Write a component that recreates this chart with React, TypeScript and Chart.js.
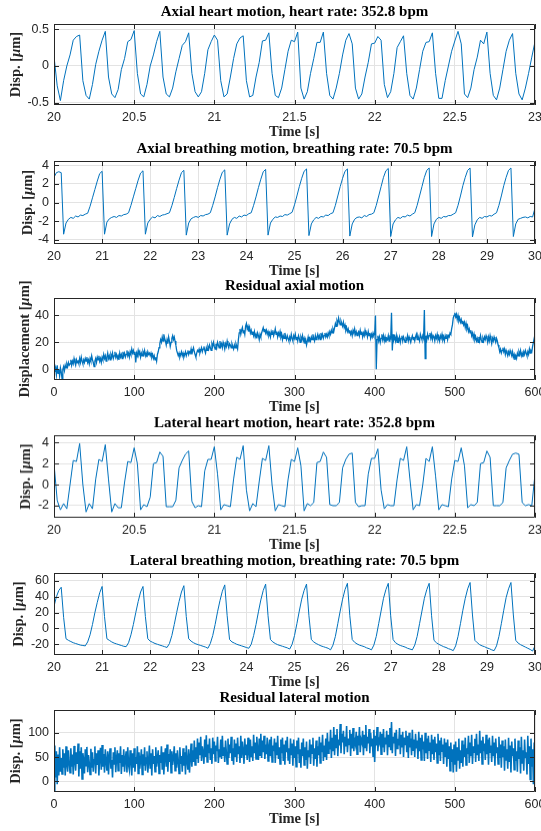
import React, { useEffect, useRef } from "react";
import { Chart, registerables } from "chart.js";

Chart.register(...registerables);

// ---------------- data ----------------
const axialHeartStart = 20;
const axialHeartStep = 0.02;
const axialHeart = [
  0.13, -0.27, -0.47, -0.2, 0.0, 0.15, 0.35, 0.4, 0.42, -0.2,
  -0.4, -0.45, -0.25, 0.02, 0.2, 0.35, 0.47, -0.15, -0.38, -0.43,
  -0.32, -0.05, 0.1, 0.33, 0.36, 0.48, -0.1, -0.38, -0.42, -0.25,
  0.0, 0.15, 0.33, 0.47, -0.15, -0.38, -0.42, -0.3, -0.08, 0.1,
  0.28, 0.33, 0.45, -0.1, -0.35, -0.42, -0.35, -0.1, 0.22, 0.33,
  0.42, 0.35, -0.2, -0.42, -0.38, -0.15, 0.1, 0.3, 0.38, 0.41,
  -0.2, -0.42, -0.4, -0.15, 0.05, 0.34, 0.35, 0.45, -0.1, -0.4,
  -0.43, -0.3, -0.05, 0.2, 0.35, 0.33, 0.46, -0.3, -0.45, -0.35,
  -0.1, 0.1, 0.32, 0.32, 0.46, -0.1, -0.4, -0.45, -0.3, -0.1,
  0.15, 0.35, 0.44, 0.3, -0.3, -0.45, -0.38, -0.15, 0.05, 0.3,
  0.31, 0.4, 0.35, -0.25, -0.43, -0.35, -0.1, 0.25, 0.33, 0.41,
  -0.1, -0.4, -0.45, -0.3, -0.05, 0.2, 0.32, 0.33, 0.45, -0.1,
  -0.44, -0.44, -0.2, 0.0, 0.2, 0.34, 0.47, 0.3, -0.38, -0.43,
  -0.3, -0.05, 0.12, 0.35, 0.3, 0.46, -0.1, -0.4, -0.46, -0.3,
  -0.05, 0.2, 0.35, 0.44, -0.1, -0.38, -0.46, -0.3, -0.1, 0.12,
  0.33,
];

const axialBreathStart = 20;
const axialBreathStep = 0.05;
const axialBreath = [
  2.7, 3.2, 3.3, 3.2,
  -3.4, -2.2, -1.8, -1.6, -1.7, -1.45, -1.55, -1.35, -1.4, -1.25, -1.15, -0.4, 0.5, 1.4, 2.3, 3.1, 3.35,
  -3.4, -2.1, -1.75, -1.6, -1.5, -1.6, -1.4, -1.45, -1.3, -1.25, -1.1, -0.3, 0.6, 1.5, 2.4, 3.15, 3.4,
  -3.4, -2.2, -1.8, -1.55, -1.65, -1.4, -1.5, -1.35, -1.3, -1.2, -1.1, -0.35, 0.55, 1.5, 2.4, 3.2, 3.45,
  -3.5, -2.2, -1.75, -1.6, -1.5, -1.6, -1.4, -1.45, -1.3, -1.25, -1.1, -0.3, 0.6, 1.6, 2.5, 3.25, 3.5,
  -3.5, -2.3, -1.8, -1.6, -1.7, -1.45, -1.55, -1.35, -1.4, -1.2, -1.1, -0.3, 0.6, 1.6, 2.5, 3.3, 3.55,
  -3.5, -2.2, -1.8, -1.55, -1.6, -1.45, -1.5, -1.3, -1.35, -1.2, -1.05, -0.25, 0.7, 1.7, 2.6, 3.35, 3.6,
  -3.55, -2.3, -1.85, -1.6, -1.7, -1.5, -1.55, -1.35, -1.4, -1.2, -1.1, -0.3, 0.7, 1.7, 2.6, 3.35, 3.6,
  -3.6, -2.3, -1.8, -1.6, -1.55, -1.65, -1.4, -1.5, -1.3, -1.25, -1.1, -0.3, 0.7, 1.7, 2.7, 3.4, 3.65,
  -3.65, -2.3, -1.85, -1.6, -1.7, -1.5, -1.55, -1.35, -1.45, -1.25, -1.1, -0.3, 0.7, 1.7, 2.7, 3.45, 3.7,
  -3.65, -2.3, -1.8, -1.6, -1.7, -1.5, -1.55, -1.4, -1.4, -1.25, -1.1, -0.3, 0.7, 1.8, 2.7, 3.45, 3.7,
  -3.7, -2.4, -1.85, -1.6, -1.7, -1.5, -1.55, -1.4, -1.45, -1.25, -1.1, -0.3, 0.7, 1.8, 2.7, 3.45, 3.7,
  -3.65, -2.3, -1.8, -1.7, -1.6, -1.55, -1.65, -1.5, -1.55, -0.6,
];

const residualAxialStart = 0;
const residualAxialStep = 1;
const residualAxial = [
  2, -2, 1, -4, 3, -3, 0, -5, 1, -2,
  -7, 0, 2, -1, 3, 1, 4, 2, 5, 3,
  4, 7, 3, 6, 4, 8, 5, 3, 7, 5,
  6, 4, 8, 5, 9, 6, 4, 7, 5, 8,
  6, 9, 5, 7, 4, 8, 6, 10, 7, 5,
  2, 6, 8, 5, 9, 7, 10, 6, 8, 5,
  9, 7, 11, 8, 10, 6, 9, 12, 8, 10,
  7, 11, 9, 12, 8, 10, 13, 9, 11, 8,
  10, 7, 12, 9, 11, 8, 13, 10, 12, 9,
  11, 14, 10, 12, 9, 13, 11, 15, 12, 14,
  11, 13, 5, 12, 10, 14, 11, 13, 9, 12,
  10, 13, 11, 14, 10, 12, 9, 13, 11, 12,
  10, 12, 9, 11, 8, 10, 7, 9, 6, 11,
  13, 16, 19, 22, 20, 24, 21, 26, 23, 21,
  18, 22, 19, 24, 21, 17, 20, 23, 25, 22,
  24, 21, 18, 14, 12, 10, 12, 9, 11, 13,
  10, 12, 9, 11, 13, 10, 12, 14, 11, 13,
  12, 15, 11, 14, 16, 13, 11, 9, 12, 14,
  13, 15, 12, 14, 16, 13, 15, 17, 14, 12,
  16, 14, 17, 15, 18, 16, 14, 19, 17, 20,
  17, 15, 19, 16, 20, 18, 16, 21, 17, 19,
  16, 20, 18, 15, 19, 17, 21, 18, 16, 19,
  18, 16, 19, 17, 15, 18, 16, 19, 17, 15,
  22, 27, 30, 26, 29, 31, 27, 29, 26, 32,
  34, 30, 32, 28, 31, 27, 29, 26, 28, 25,
  28, 24, 26, 23, 27, 25, 22, 26, 24, 27,
  29, 31, 28, 30, 27, 29, 26, 28, 25, 27,
  24, 28, 26, 29, 25, 27, 30, 26, 28, 24,
  27, 25, 28, 24, 26, 22, 25, 23, 27, 24,
  22, 25, 23, 21, 24, 22, 26, 23, 21, 25,
  23, 26, 22, 24, 21, 25, 23, 20, 24, 22,
  25, 21, 23, 19, 22, 18, 21, 24, 20, 23,
  21, 24, 22, 26, 23, 21, 25, 22, 24, 26,
  23, 25, 22, 27, 24, 26, 23, 25, 27, 24,
  26, 24, 27, 25, 28, 26, 29, 27, 30, 28,
  31, 34, 32, 36, 34, 38, 35, 33, 36, 34,
  32, 35, 31, 33, 29, 31, 28, 30, 27, 29,
  26, 28, 25, 29, 27, 30, 26, 28, 25, 27,
  28, 25, 29, 26, 28, 24, 27, 25, 29, 26,
  27, 24, 28, 25, 27, 23, 26, 24, 27, 25,
  26, 40, 0, 22, 25, 21, 24, 20, 23, 26,
  22, 25, 21, 24, 20, 23, 22, 25, 21, 24,
  23, 42, 14, 26, 22, 24, 21, 25, 20, 23,
  21, 24, 20, 23, 25, 21, 24, 22, 20, 23,
  22, 25, 21, 24, 22, 20, 23, 25, 22, 24,
  21, 24, 26, 22, 25, 23, 21, 26, 24, 22,
  25, 23, 44, 8, 25, 22, 26, 23, 25, 27,
  23, 26, 22, 25, 24, 21, 25, 23, 26, 22,
  24, 21, 25, 23, 26, 22, 24, 21, 25, 23,
  26, 22, 25, 24, 27, 26, 30, 33, 38, 40,
  42, 39, 41, 37, 40, 36, 38, 35, 37, 34,
  36, 33, 35, 31, 34, 30, 32, 28, 30, 27,
  29, 25, 27, 23, 26, 22, 24, 21, 23, 20,
  24, 21, 25, 22, 20, 23, 21, 24, 22, 25,
  23, 20, 24, 21, 25, 22, 19, 23, 21, 24,
  22, 20, 23, 21, 18, 16, 13, 15, 12, 14,
  16, 13, 15, 11, 14, 12, 10, 13, 11, 14,
  12, 10, 13, 9, 11, 7, 10, 8, 12, 10,
  13, 11, 14, 10, 12, 9, 13, 11, 14, 12,
  10, 13, 11, 15, 12, 14, 13, 17, 20, 23,
  26,
];

const lateralHeartStart = 20;
const lateralHeartStep = 0.02;
const lateralHeart = [
  2.0, -1.5, -2.4, -1.8, -2.3, 0.0, 2.3, 2.2,
  3.9, 0.0, -2.6, -1.8, -2.3, 0.5, 2.4, 2.2,
  3.8, 0.5, -2.6, -1.8, -2.2, -2.2, 0.2, 2.2, 2.1,
  3.5, 2.0, -2.4, -1.9, -2.1, -1.2, 2.0, 2.1,
  3.1, 2.7, -2.1, -2.1, -2.1, -1.5, 1.6, 2.3, 2.9,
  3.2, -1.6, -2.2, -2.0, -2.1, 1.3, 2.4, 2.4,
  3.6, 1.0, -2.4, -1.9, -2.0, -2.1, 0.5, 2.6, 2.4,
  3.7, -0.5, -2.5, -1.8, -2.1, 0.3, 2.5, 2.3,
  3.7, 0.0, -2.5, -1.9, -2.0, -2.1, 0.5, 2.4, 2.2,
  3.5, 1.8, -2.5, -1.8, -2.0, -1.7, 2.1, 2.2,
  3.1, 2.6, -1.9, -2.0, -2.0, -1.7, 1.6, 2.4, 2.9,
  3.0, -1.7, -2.1, -2.0, -2.0, 1.0, 2.5, 2.5,
  3.4, -0.5, -2.3, -1.9, -2.0, -2.0, 0.5, 2.5, 2.3,
  3.6, 0.5, -2.4, -1.9, -2.0, 0.0, 2.5, 2.2,
  3.6, 0.8, -2.4, -1.9, -2.0, -2.1, 0.5, 2.3, 2.2,
  3.5, 1.8, -2.2, -1.9, -2.0, -1.7, 2.0, 2.1,
  3.2, 2.6, -2.0, -2.0, -2.0, -1.7, 1.6, 2.3, 2.9,
  3.0, 2.9, -1.7, -2.0, -1.9, -2.0, 1.0,
];

const lateralBreathStart = 20;
const lateralBreathStep = 0.05;
const lateralBreath = [
  28, 40, 48, 52,
  14, -13, -15, -16.5, -18, -19, -20, -21, -21.5, -22, -17, -8, 5, 20, 33, 45,
  53, 15, -13, -15, -17, -18.5, -19.5, -20.5, -21.5, -22.5, -23, -18, -8, 5, 20, 34, 46,
  53, 15, -13, -16, -17.5, -19, -20, -21, -22, -23, -24, -19, -9, 5, 20, 34, 46,
  54, 15, -13, -16, -18, -19.5, -20.5, -21.5, -22.5, -23.5, -25, -19, -9, 5, 21, 35, 47,
  55, 16, -14, -17, -18.5, -20, -21, -22, -23, -24, -25, -20, -9, 5, 21, 36, 48,
  56, 16, -14, -17, -19, -20.5, -21.5, -22.5, -23.5, -24.5, -26, -20, -9, 6, 22, 37, 48,
  56, 16, -14, -17, -19, -20.5, -22, -23, -24, -25, -27, -21, -10, 6, 22, 37, 49,
  57, 16, -14, -17.5, -19.5, -21, -22, -23, -24.5, -25.5, -27, -21, -10, 6, 22, 38, 49,
  57, 16, -14, -18, -20, -21.5, -22.5, -23.5, -25, -26, -27, -21, -10, 6, 22, 38, 49,
  57, 16, -15, -18, -20, -21.5, -23, -24, -25.5, -26.5, -28, -22, -10, 6, 23, 38, 50,
  58, 17, -15, -18, -20.5, -22, -23, -24.5, -25.5, -27, -28, -22, -10, 6, 23, 39, 50,
  58, 17, -15, -18.5, -20.5, -22, -23.5, -25, -26.5, -28.5, -22,
];

const residualLateralStart = 0;
const residualLateralStep = 1;
const residualLateral = [
  -20, 74, 8, 62, -6, 55, 12, 70, 20, 48,
  15, 66, 28, 58, 12, 72, 35, 20, 64, 40,
  18, 68, 30, 55, 14, 73, 42, 22, 60, 36,
  78, 10, 62, 26, 70, 5, 58, 44, 16, 66,
  32, 71, 19, 54, 38, 14, 67, 28, 60, 20,
  45, 72, 16, 58, 34, 64, 12, 50, 69, 24,
  75, 30, 56, 18, 66, 40, 22, 62, 14, 52,
  68, 26, 44, 8, 60, 36, 70, 19, 48, 64,
  22, 58, 38, 72, 15, 54, 30, 66, 20, 46,
  62, 18, 70, 34, 24, 64, 42, 12, 58, 28,
  68, 20, 50, 36, 72, 16, 60, 26, 44, 66,
  14, 56, 32, 70, 22, 48, 62, 18, 40, 74,
  26, 58, 12, 66, 36, 52, 20, 70, 30, 46,
  64, 16, 54, 38, 72, 24, 60, 14, 50, 68,
  30, 76, 20, 56, 40, 66, 18, 62, 34, 48,
  72, 22, 58, 28, 64, 44, 16, 70, 36, 52,
  20, 68, 32, 60, 14, 74, 42, 24, 66, 18,
  48, 78, 30, 64, 40, 84, 34, 70, 46, 88,
  38, 80, 54, 92, 42, 72, 60, 36, 86, 50,
  95, 40, 76, 58, 88, 44, 68, 36, 90, 56,
  82, 42, 74, 62, 92, 38, 66, 50, 86, 46,
  94, 54, 70, 40, 84, 60, 36, 88, 48, 76,
  58, 92, 42, 68, 34, 86, 52, 78, 40, 90,
  56, 72, 38, 94, 48, 82, 62, 36, 88, 54,
  76, 44, 90, 60, 40, 86, 50, 72, 42, 96,
  58, 80, 46, 92, 64, 44, 88, 54, 98, 48,
  84, 60, 94, 46, 76, 56, 90, 42, 70, 86,
  52, 92, 40, 74, 62, 88, 38, 80, 54, 94,
  46, 70, 36, 86, 58, 90, 42, 76, 34, 84,
  60, 92, 44, 68, 36, 88, 54, 78, 32, 86,
  48, 72, 30, 84, 56, 90, 38, 66, 28, 80,
  52, 88, 34, 70, 44, 82, 26, 64, 50, 86,
  36, 76, 58, 90, 32, 68, 46, 84, 30, 72,
  54, 92, 38, 80, 60, 96, 42, 74, 50, 88,
  44, 100, 58, 82, 66, 106, 48, 90, 62, 112,
  54, 96, 70, 108, 52, 86, 74, 118, 58, 98,
  80, 104, 56, 92, 72, 114, 60, 88, 76, 106,
  52, 98, 68, 110, 62, 90, 78, 102, 56, 94,
  74, 112, 60, 86, 80, 104, 54, 96, 70, 116,
  62, 92, 78, 108, 58, 100, 72, 88, 52, 106,
  40, 94, 74, 112, 62, 86, 80, 102, 56, 98,
  70, 108, 60, 90, 76, 104, 54, 96, 72, 110,
  64, 122, 58, 92, 78, 100, 52, 106, 68, 88,
  74, 110, 56, 96, 70, 102, 50, 90, 76, 104,
  60, 94, 48, 100, 70, 88, 54, 106, 64, 86,
  50, 98, 68, 84, 46, 102, 62, 90, 44, 96,
  66, 82, 42, 100, 58, 88, 46, 94, 64, 80,
  40, 96, 56, 86, 44, 92, 60, 78, 38, 98,
  54, 84, 42, 90, 62, 76, 36, 88, 50, 80,
  30, 86, 46, 72, 22, 80, 40, 66, 18, 76,
  34, 82, 20, 70, 44, 88, 26, 64, 38, 84,
  30, 76, 50, 90, 34, 68, 56, 94, 38, 80,
  52, 96, 36, 72, 60, 88, 40, 98, 54, 76,
  42, 104, 58, 84, 36, 92, 62, 78, 44, 96,
  56, 86, 34, 90, 60, 74, 40, 94, 52, 80,
  32, 88, 58, 70, 36, 92, 48, 76, 28, 84,
  50, 72, 22, 86, 44, 66, 26, 90, 40, 74,
  18, 82, 52, 68, 24, 88, 42, 62, 20, 84,
  46, 70, 16, 92, 38, 64, 22, 86, 48, 60,
  14, 94, 36, 72, 4, 88, 30, 66, -6, 80,
  -15,
];

// tick values and labels
const heartXTicks = [20, 20.5, 21, 21.5, 22, 22.5, 23];
const heartXLabels = ["20", "20.5", "21", "21.5", "22", "22.5", "23"];
const breathXTicks = [20, 21, 22, 23, 24, 25, 26, 27, 28, 29, 30];
const breathXLabels = ["20", "21", "22", "23", "24", "25", "26", "27", "28", "29", "30"];
const residualXTicks = [0, 100, 200, 300, 400, 500, 600];
const residualXLabels = ["0", "100", "200", "300", "400", "500", "600"];

const axialHeartYTicks = [-0.5, 0, 0.5];
const axialHeartYLabels = ["-0.5", "0", "0.5"];
const axialBreathYTicks = [-4, -2, 0, 2, 4];
const axialBreathYLabels = ["-4", "-2", "0", "2", "4"];
const residualAxialYTicks = [0, 20, 40];
const residualAxialYLabels = ["0", "20", "40"];
const lateralHeartYTicks = [-2, 0, 2, 4];
const lateralHeartYLabels = ["-2", "0", "2", "4"];
const lateralBreathYTicks = [-20, 0, 20, 40, 60];
const lateralBreathYLabels = ["-20", "0", "20", "40", "60"];
const residualLateralYTicks = [0, 50, 100];
const residualLateralYLabels = ["0", "50", "100"];

const titles = [
  "Axial heart motion, heart rate: 352.8 bpm",
  "Axial breathing motion, breathing rate: 70.5 bpm",
  "Residual axial motion",
  "Lateral heart motion, heart rate: 352.8 bpm",
  "Lateral breathing motion, breathing rate: 70.5 bpm",
  "Residual lateral motion",
];

// ---------------- layout / style ----------------
const W = 541;
const H = 831;
const PLOT_LEFT = 54;
const PLOT_RIGHT = 535;
const PAD_T = 30;
const PAD_B = 42;
const LINE = "#0072BD";
const AXIS = "#262626";
const GRID = "#e3e3e3";
const SERIF = '"Liberation Serif", "Times New Roman", serif';
const SANS = '"Liberation Sans", Arial, Helvetica, sans-serif';

type PanelCfg = {
  start: number;
  step: number;
  ys: number[];
  xmin: number;
  xmax: number;
  ymin: number;
  ymax: number;
  xTicks: number[];
  xLabels: string[];
  yTicks: number[];
  yLabels: string[];
  title: string;
  ylabel: string;
  ylabelX: number;
  top: number;
  h: number;
  lw: number;
};

const panels: PanelCfg[] = [
  { start: axialHeartStart, step: axialHeartStep, ys: axialHeart, xmin: 20, xmax: 23, ymin: -0.53, ymax: 0.57,
    xTicks: heartXTicks, xLabels: heartXLabels, yTicks: axialHeartYTicks, yLabels: axialHeartYLabels,
    title: titles[0], ylabel: "Disp.", ylabelX: 16.5, top: 24, h: 81, lw: 1 },
  { start: axialBreathStart, step: axialBreathStep, ys: axialBreath, xmin: 20, xmax: 30, ymin: -4.45, ymax: 4.45,
    xTicks: breathXTicks, xLabels: breathXLabels, yTicks: axialBreathYTicks, yLabels: axialBreathYLabels,
    title: titles[1], ylabel: "Disp.", ylabelX: 28, top: 161, h: 83, lw: 1 },
  { start: residualAxialStart, step: residualAxialStep, ys: residualAxial, xmin: 0, xmax: 600, ymin: -8, ymax: 53,
    xTicks: residualXTicks, xLabels: residualXLabels, yTicks: residualAxialYTicks, yLabels: residualAxialYLabels,
    title: titles[2], ylabel: "Displacement", ylabelX: 25, top: 298, h: 82, lw: 1.3 },
  { start: lateralHeartStart, step: lateralHeartStep, ys: lateralHeart, xmin: 20, xmax: 23, ymin: -3.15, ymax: 4.7,
    xTicks: heartXTicks, xLabels: heartXLabels, yTicks: lateralHeartYTicks, yLabels: lateralHeartYLabels,
    title: titles[3], ylabel: "Disp.", ylabelX: 26.5, top: 435, h: 82.5, lw: 1 },
  { start: lateralBreathStart, step: lateralBreathStep, ys: lateralBreath, xmin: 20, xmax: 30, ymin: -33.5, ymax: 70,
    xTicks: breathXTicks, xLabels: breathXLabels, yTicks: lateralBreathYTicks, yLabels: lateralBreathYLabels,
    title: titles[4], ylabel: "Disp.", ylabelX: 19, top: 572.5, h: 82.5, lw: 1 },
  { start: residualLateralStart, step: residualLateralStep, ys: residualLateral, xmin: 0, xmax: 600, ymin: -22, ymax: 147,
    xTicks: residualXTicks, xLabels: residualXLabels, yTicks: residualLateralYTicks, yLabels: residualLateralYLabels,
    title: titles[5], ylabel: "Disp.", ylabelX: 16, top: 710, h: 82, lw: 1.6 },
];

const TITLE_FONT = `bold 15px ${SERIF}`;
const LABEL_FONT = `bold 14.5px ${SERIF}`;
const LABEL_ITALIC = `italic bold 14.5px ${SERIF}`;

function drawRich(ctx: CanvasRenderingContext2D, parts: { t: string; f: string }[], cx: number, cy: number, rot: number) {
  ctx.save();
  ctx.translate(cx, cy);
  ctx.rotate(rot);
  let total = 0;
  const widths = parts.map((p) => {
    ctx.font = p.f;
    const w = ctx.measureText(p.t).width;
    total += w;
    return w;
  });
  let x = -total / 2;
  ctx.textAlign = "left";
  ctx.textBaseline = "middle";
  parts.forEach((p, i) => {
    ctx.font = p.f;
    ctx.fillText(p.t, x, 0);
    x += widths[i];
  });
  ctx.restore();
}

const matlabAxes = {
  id: "matlabAxes",
  afterDraw(chart: any, _args: any, opts: any) {
    const { ctx, chartArea: a, scales } = chart;
    const xs = scales.x;
    const ys = scales.y;
    ctx.save();
    ctx.strokeStyle = AXIS;
    ctx.lineWidth = 1;
    ctx.beginPath();
    ctx.rect(Math.round(a.left) + 0.5, Math.round(a.top) + 0.5, Math.round(a.right) - Math.round(a.left) - 1, Math.round(a.bottom) - Math.round(a.top) - 1);
    ctx.stroke();
    const TL = 5;
    ctx.beginPath();
    (opts.xTicks as number[]).forEach((v) => {
      const px = Math.round(xs.getPixelForValue(v)) + 0.5;
      ctx.moveTo(px, a.bottom);
      ctx.lineTo(px, a.bottom - TL);
      ctx.moveTo(px, a.top);
      ctx.lineTo(px, a.top + TL);
    });
    (opts.yTicks as number[]).forEach((v) => {
      const py = Math.round(ys.getPixelForValue(v)) + 0.5;
      ctx.moveTo(a.left, py);
      ctx.lineTo(a.left + TL, py);
      ctx.moveTo(a.right, py);
      ctx.lineTo(a.right - TL, py);
    });
    ctx.stroke();
    const cx = (a.left + a.right) / 2;
    ctx.fillStyle = "#000";
    ctx.font = TITLE_FONT;
    ctx.textAlign = "center";
    ctx.textBaseline = "middle";
    ctx.fillText(opts.title, cx, a.top - 11.5);
    ctx.fillStyle = AXIS;
    drawRich(ctx, [{ t: "Time [s]", f: LABEL_FONT }], cx, a.bottom + 27, 0);
    drawRich(
      ctx,
      [
        { t: opts.ylabel + " [", f: LABEL_FONT },
        { t: "\u03bc", f: LABEL_ITALIC },
        { t: "m]", f: LABEL_FONT },
      ],
      opts.ylabelX,
      (a.top + a.bottom) / 2,
      -Math.PI / 2
    );
    ctx.restore();
  },
};

function Panel({ cfg }: { cfg: PanelCfg }) {
  const ref = useRef<HTMLCanvasElement | null>(null);
  const ch = PAD_T + cfg.h + PAD_B;
  useEffect(() => {
    const canvas = ref.current;
    if (!canvas) return;
    const points = cfg.ys.map((v, i) => ({ x: cfg.start + i * cfg.step, y: v }));
    const chart = new Chart(canvas, {
      type: "line",
      data: {
        datasets: [
          {
            data: points,
            borderColor: LINE,
            borderWidth: cfg.lw,
            pointRadius: 0,
            tension: 0,
            fill: false,
          },
        ],
      },
      options: {
        responsive: false,
        animation: false,
        devicePixelRatio: 1,
        events: [],
        layout: { padding: { top: PAD_T, right: W - PLOT_RIGHT, bottom: 0, left: 0 } },
        plugins: {
          legend: { display: false },
          tooltip: { enabled: false },
          title: { display: false },
          matlabAxes: {
            title: cfg.title,
            ylabel: cfg.ylabel,
            ylabelX: cfg.ylabelX,
            xTicks: cfg.xTicks,
            yTicks: cfg.yTicks,
          },
        } as any,
        scales: {
          x: {
            type: "linear",
            min: cfg.xmin,
            max: cfg.xmax,
            border: { display: false },
            grid: { color: GRID, lineWidth: 1, drawTicks: false },
            ticks: {
              autoSkip: false,
              maxRotation: 0,
              padding: 5,
              color: AXIS,
              font: { family: SANS, size: 12.5 },
              callback: (v: any) => {
                const i = cfg.xTicks.indexOf(Number(v));
                return i >= 0 ? cfg.xLabels[i] : "";
              },
            },
            afterBuildTicks: (s: any) => {
              s.ticks = cfg.xTicks.map((v) => ({ value: v }));
            },
            afterFit: (s: any) => {
              s.height = PAD_B;
              s.paddingLeft = 0;
              s.paddingRight = 0;
            },
          },
          y: {
            type: "linear",
            min: cfg.ymin,
            max: cfg.ymax,
            border: { display: false },
            grid: { color: GRID, lineWidth: 1, drawTicks: false },
            ticks: {
              autoSkip: false,
              padding: 5,
              color: AXIS,
              font: { family: SANS, size: 12.5 },
              callback: (v: any) => {
                const i = cfg.yTicks.indexOf(Number(v));
                return i >= 0 ? cfg.yLabels[i] : "";
              },
            },
            afterBuildTicks: (s: any) => {
              s.ticks = cfg.yTicks.map((v) => ({ value: v }));
            },
            afterFit: (s: any) => {
              s.width = PLOT_LEFT;
              s.paddingTop = 0;
              s.paddingBottom = 0;
            },
          },
        },
      },
      plugins: [matlabAxes as any],
    });
    return () => chart.destroy();
  }, [cfg]);
  return (
    <canvas
      ref={ref}
      width={W}
      height={ch}
      style={{ position: "absolute", left: 0, top: cfg.top - PAD_T, width: W, height: ch, display: "block" }}
    />
  );
}

export default function App() {
  return (
    <div
      style={{
        position: "fixed",
        left: 0,
        top: 0,
        width: W,
        height: H,
        overflow: "hidden",
        background: "#ffffff",
      }}
    >
      {panels.map((p, i) => (
        <Panel key={i} cfg={p} />
      ))}
    </div>
  );
}
